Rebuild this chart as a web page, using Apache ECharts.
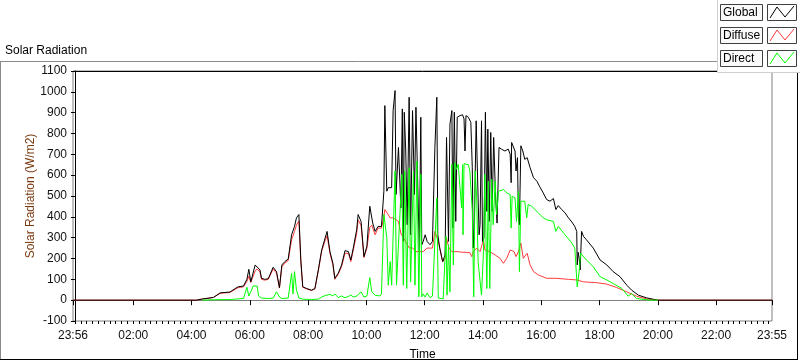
<!DOCTYPE html>
<html>
<head>
<meta charset="utf-8">
<title>Solar Radiation</title>
<script src="https://cdn.jsdelivr.net/npm/echarts@6/dist/echarts.min.js"></script>
<style>
  html, body { margin: 0; padding: 0; background: #fff; }
  #chart { width: 800px; height: 361px; }
</style>
</head>
<body>
<div id="chart"></div>
<script>
// clock time, W/m2 (23:56 is the day before)
const globalPts = [
  ['23:56', 0], ['04:10', 0], ['04:21', 5], ['04:45', 13], ['04:59', 35], ['05:19', 39], ['05:30', 56],
  ['05:36', 64], ['05:47', 68], ['05:54', 100], ['05:58', 148], ['06:02', 88], ['06:11', 169], ['06:15', 161],
  ['06:21', 145], ['06:24', 105], ['06:31', 100], ['06:38', 103], ['06:48', 158], ['06:55', 137], ['07:01', 60],
  ['07:06', 169], ['07:12', 185], ['07:19', 197], ['07:26', 314], ['07:32', 354], ['07:36', 395], ['07:41', 411],
  ['07:45', 193], ['07:49', 64], ['07:57', 56], ['08:07', 48], ['08:14', 56], ['08:21', 145], ['08:28', 242],
  ['08:35', 298], ['08:39', 330], ['08:45', 233], ['08:51', 177], ['08:55', 105], ['09:02', 129], ['09:09', 169],
  ['09:16', 238], ['09:23', 233], ['09:28', 193], ['09:33', 250], ['09:40', 338], ['09:43', 411], ['09:49', 378],
  ['09:55', 209], ['10:01', 258], ['10:07', 451], ['10:13', 370], ['10:18', 330], ['10:24', 354], ['10:31', 354],
  ['10:36', 523], ['10:38', 934], ['10:42', 523], ['10:45', 540], ['10:52', 540], ['10:55', 910], ['10:59', 1006],
  ['11:01', 507], ['11:06', 733], ['11:11', 443], ['11:14', 918], ['11:16', 282], ['11:18', 902], ['11:21', 716],
  ['11:24', 362], ['11:28', 974], ['11:31', 314], ['11:35', 910], ['11:39', 507], ['11:42', 926], ['11:46', 918],
  ['11:49', 233], ['11:52', 878], ['11:54', 266], ['11:57', 282], ['12:01', 314], ['12:05', 282], ['12:11', 266],
  ['12:16', 282], ['12:21', 733], ['12:25', 974], ['12:27', 314], ['12:31', 250], ['12:37', 185], ['12:42', 217],
  ['12:45', 781], ['12:49', 282], ['12:52', 845], ['12:56', 910], ['12:58', 346], ['13:01', 902], ['13:04', 378],
  ['13:07', 878], ['13:13', 886], ['13:18', 890], ['13:21', 870], ['13:23', 716], ['13:25', 886], ['13:30', 878],
  ['13:35', 853], ['13:38', 636], ['13:40', 250], ['13:42', 346], ['13:46', 861], ['13:48', 668], ['13:52', 314],
  ['13:54', 362], ['13:57', 861], ['13:59', 282], ['14:02', 298], ['14:05', 902], ['14:08', 426], ['14:10', 821],
  ['14:13', 378], ['14:16', 805], ['14:19', 426], ['14:22', 781], ['14:26', 491], ['14:29', 370], ['14:33', 733],
  ['14:38', 725], ['14:45', 716], ['14:52', 725], ['14:56', 700], ['14:58', 564], ['14:59', 757], ['15:02', 749],
  ['15:06', 716], ['15:08', 620], ['15:11', 684], ['15:13', 395], ['15:15', 362], ['15:18', 741], ['15:22', 716],
  ['15:26', 676], ['15:31', 684], ['15:37', 636], ['15:44', 588], ['15:51', 571], ['15:57', 544], ['16:04', 515],
  ['16:11', 483], ['16:18', 475], ['16:25', 488], ['16:30', 435], ['16:35', 454], ['16:42', 435], ['16:49', 419],
  ['16:56', 395], ['17:03', 375], ['17:09', 354], ['17:13', 330], ['17:14', 169], ['17:16', 230], ['17:18', 201],
  ['17:20', 145], ['17:23', 330], ['17:27', 306], ['17:33', 290], ['17:47', 250], ['18:01', 193], ['18:15', 169],
  ['18:28', 137], ['18:42', 113], ['18:56', 72], ['19:06', 48], ['19:20', 24], ['19:37', 11], ['19:58', 1],
  ['20:04', 0], ['23:55', 0]
];

const diffusePts = [
  ['23:56', 0], ['04:10', 0], ['04:21', 5], ['04:45', 13], ['04:59', 33], ['05:19', 37], ['05:30', 52],
  ['05:36', 60], ['05:47', 64], ['05:54', 90], ['05:58', 115], ['06:02', 85], ['06:11', 140], ['06:15', 150],
  ['06:21', 135], ['06:24', 100], ['06:31', 96], ['06:38', 100], ['06:48', 150], ['06:55', 130], ['07:01', 58],
  ['07:06', 160], ['07:12', 178], ['07:19', 190], ['07:26', 290], ['07:32', 330], ['07:36', 360], ['07:41', 380],
  ['07:45', 185], ['07:49', 62], ['07:57', 54], ['08:07', 46], ['08:14', 54], ['08:21', 140], ['08:28', 235],
  ['08:35', 285], ['08:39', 310], ['08:45', 225], ['08:51', 170], ['08:55', 100], ['09:02', 124], ['09:09', 162],
  ['09:16', 225], ['09:23', 225], ['09:28', 185], ['09:33', 240], ['09:40', 320], ['09:43', 385], ['09:49', 360],
  ['09:55', 205], ['10:01', 250], ['10:07', 350], ['10:11', 360], ['10:18', 314], ['10:24', 346], ['10:31', 346],
  ['10:36', 400], ['10:38', 435], ['10:42', 435], ['10:45', 410], ['10:49', 395], ['10:55', 395], ['10:59', 395],
  ['11:06', 378], ['11:11', 320], ['11:16', 300], ['11:21', 280], ['11:28', 251], ['11:35', 251], ['11:42', 233],
  ['11:49', 233], ['11:57', 233], ['12:05', 250], ['12:11', 250], ['12:16', 250], ['12:21', 330], ['12:25', 330],
  ['12:28', 282], ['12:31', 250], ['12:37', 185], ['12:42', 201], ['12:45', 298], ['12:50', 250], ['12:56', 233],
  ['13:02', 233], ['13:09', 233], ['13:16', 230], ['13:25', 230], ['13:33', 228], ['13:37', 209], ['13:40', 233],
  ['13:47', 250], ['13:54', 233], ['14:01', 290], ['14:04', 241], ['14:14', 233], ['14:25', 217], ['14:35', 201],
  ['14:42', 177], ['14:49', 201], ['14:56', 241], ['15:00', 250], ['15:04', 233], ['15:08', 209], ['15:13', 233],
  ['15:18', 274], ['15:23', 201], ['15:26', 193], ['15:31', 225], ['15:37', 169], ['15:44', 137], ['15:54', 121],
  ['16:11', 105], ['16:30', 105], ['16:56', 100], ['17:13', 97], ['17:27', 88], ['17:54', 84], ['18:15', 77],
  ['18:35', 61], ['18:56', 40], ['19:16', 19], ['19:37', 6], ['19:54', 0], ['23:55', 0]
];

// direct is only logged while the sun is up
const directPts = [
  ['04:22', 0], ['04:45', 2], ['05:19', 3], ['05:30', 5], ['05:47', 8], ['05:54', 62], ['05:58', 20],
  ['06:02', 40], ['06:07', 68], ['06:11', 60], ['06:15', 68], ['06:18', 20], ['06:24', 10], ['06:38', 8],
  ['06:48', 10], ['06:55', 40], ['07:01', 15], ['07:06', 8], ['07:19', 10], ['07:26', 129], ['07:29', 30],
  ['07:32', 137], ['07:36', 50], ['07:41', 10], ['07:49', 5], ['08:07', 3], ['08:21', 5], ['08:28', 15],
  ['08:35', 22], ['08:45', 28], ['08:51', 20], ['08:55', 30], ['09:02', 12], ['09:09', 20], ['09:16', 12],
  ['09:23', 18], ['09:28', 25], ['09:33', 15], ['09:40', 20], ['09:49', 40], ['09:55', 15], ['10:01', 20],
  ['10:07', 108], ['10:11', 40], ['10:18', 24], ['10:28', 20], ['10:31', 30], ['10:36', 411], ['10:38', 403],
  ['10:42', 300], ['10:45', 72], ['10:49', 185], ['10:52', 72], ['10:59', 620], ['11:02', 72], ['11:13', 604],
  ['11:16', 72], ['11:19', 620], ['11:23', 56], ['11:28', 636], ['11:31', 88], ['11:37', 620], ['11:40', 72],
  ['11:44', 668], ['11:48', 16], ['11:52', 604], ['11:54', 16], ['11:57', 30], ['12:01', 15], ['12:05', 35],
  ['12:11', 12], ['12:16', 20], ['12:25', 491], ['12:28', 10], ['12:31', 8], ['12:38', 6], ['12:44', 306],
  ['12:46', 24], ['12:49', 266], ['12:52', 40], ['12:56', 652], ['12:59', 169], ['13:02', 660], ['13:06', 628],
  ['13:09', 652], ['13:13', 660], ['13:16', 443], ['13:18', 650], ['13:19', 314], ['13:21', 655], ['13:25', 655],
  ['13:30', 650], ['13:33', 620], ['13:38', 426], ['13:41', 16], ['13:44', 620], ['13:47', 491], ['13:50', 185],
  ['13:52', 137], ['13:57', 24], ['14:01', 233], ['14:04', 604], ['14:08', 56], ['14:11', 571], ['14:14', 56],
  ['14:18', 580], ['14:21', 362], ['14:25', 571], ['14:28', 411], ['14:32', 523], ['14:35', 531], ['14:42', 531],
  ['14:49', 515], ['14:52', 507], ['14:56', 507], ['14:58', 346], ['15:00', 499], ['15:02', 507], ['15:06', 491],
  ['15:09', 378], ['15:13', 523], ['15:15', 137], ['15:18', 475], ['15:22', 483], ['15:26', 475], ['15:30', 395],
  ['15:33', 459], ['15:40', 451], ['15:47', 435], ['15:54', 419], ['16:04', 395], ['16:11', 386], ['16:14', 378],
  ['16:25', 378], ['16:30', 330], ['16:35', 354], ['16:49', 314], ['17:03', 274], ['17:09', 250], ['17:14', 64],
  ['17:18', 137], ['17:21', 225], ['17:33', 193], ['17:47', 161], ['18:01', 113], ['18:15', 97], ['18:28', 80],
  ['18:46', 56], ['18:59', 19], ['19:06', 32], ['19:16', 8], ['19:44', 0], ['20:00', 0]
];

// x axis: minutes after midnight, the window runs 23:56 (prev day) .. 23:55
const majorTicks = [-4, 120, 240, 360, 480, 600, 720, 840, 960, 1080, 1200, 1320, 1435];
const minorTicks = [];
for (let m = 0; m <= 1428; m += 12) minorTicks.push(m);

const legendNames = ['Global', 'Diffuse', 'Direct'];
const colors = { Global: '#000000', Diffuse: '#ff3a3a', Direct: '#00ff00' };

const toMin = (s) => {
  const [h, m] = s.split(':').map(Number);
  const v = h * 60 + m;
  return v >= 1436 ? v - 1440 : v;
};
const fmt = (v) => {
  const m = (Math.round(v) + 1440) % 1440;
  return String(Math.floor(m / 60)).padStart(2, '0') + ':' + String(m % 60).padStart(2, '0');
};
const toData = (pts) => pts.map(p => [toMin(p[0]), p[1]]);

const font = 'Liberation Sans, Arial, sans-serif';

// legend panel, drawn by hand to look like the LabVIEW plot legend
const legendGraphics = [];
legendNames.forEach((name, i) => {
  const y = 4 + i * 23;
  legendGraphics.push({
    type: 'rect', shape: { x: 720.5, y: y + 0.5, width: 42, height: 16 },
    style: { fill: '#fafafa', stroke: '#404040', lineWidth: 1 }
  });
  legendGraphics.push({
    type: 'text', x: 723, y: y + 9,
    style: { text: name, fill: '#000', font: '12px ' + font, textVerticalAlign: 'middle', verticalAlign: 'middle' }
  });
  legendGraphics.push({
    type: 'rect', shape: { x: 767.5, y: y + 0.5, width: 29, height: 16 },
    style: { fill: '#fff', stroke: '#404040', lineWidth: 1 }
  });
  legendGraphics.push({
    type: 'polyline',
    shape: { points: [[770, y + 14], [777, y + 3], [785, y + 13], [794, y + 2]] },
    style: { stroke: colors[name], lineWidth: 1, fill: null }
  });
});

const chart = echarts.init(document.getElementById('chart'), null, { renderer: 'canvas' });

const option = {
  animation: false,
  backgroundColor: '#ffffff',
  textStyle: { fontFamily: font },
  grid: {
    left: 73, right: 28, top: 71, bottom: 40, outerBoundsMode: 'none', containLabel: false,
    show: true, borderColor: '#808080', borderWidth: 1, backgroundColor: '#fff'
  },
  xAxis: [
    {
      type: 'value', position: 'bottom', min: -4, max: 1435,
      axisLine: { show: true, lineStyle: { color: '#808080', width: 1 } },
      axisTick: { show: true, inside: false, length: 5, customValues: majorTicks, lineStyle: { color: '#000' } },
      axisLabel: {
        customValues: majorTicks, formatter: fmt, margin: 9, fontSize: 12, color: '#111',
        showMinLabel: true, showMaxLabel: true, hideOverlap: false
      },
      splitLine: { show: false },
      name: 'Time', nameLocation: 'middle', nameGap: 28, nameMoveOverlap: false,
      nameTextStyle: { fontSize: 12, color: '#000' }
    },
    {
      type: 'value', position: 'top', min: -4, max: 1435,
      axisLine: { show: true, lineStyle: { color: '#000', width: 1 } },
      axisTick: { show: false }, axisLabel: { show: false }, splitLine: { show: false }
    },
    {
      type: 'value', position: 'bottom', min: -4, max: 1435,
      axisLine: { show: false },
      axisTick: { show: true, inside: false, length: 3, customValues: minorTicks, lineStyle: { color: '#000' } },
      axisLabel: { show: false }, splitLine: { show: false }
    }
  ],
  yAxis: {
    type: 'value', min: -100, max: 1100, interval: 100,
    axisLine: { show: true, lineStyle: { color: '#000', width: 1 } },
    axisTick: { show: true, inside: false, length: 4, lineStyle: { color: '#000' } },
    axisLabel: { margin: 6, fontSize: 12, color: '#111', formatter: (v) => String(v) },
    splitLine: { show: false },
    name: 'Solar Radiation (W/m2)', nameLocation: 'middle', nameGap: 36, nameRotate: 90, nameMoveOverlap: false,
    nameTextStyle: { fontSize: 12, color: '#7a3a10' }
  },
  series: [
    {
      name: 'Diffuse', type: 'line', data: toData(diffusePts), showSymbol: false, symbol: 'none',
      lineStyle: { color: colors.Diffuse, width: 1 }, z: 2
    },
    {
      name: 'Global', type: 'line', data: toData(globalPts), showSymbol: false, symbol: 'none',
      lineStyle: { color: colors.Global, width: 1 }, z: 3
    },
    {
      name: 'Direct', type: 'line', data: toData(directPts), showSymbol: false, symbol: 'none',
      lineStyle: { color: colors.Direct, width: 1 }, z: 4
    }
  ],
  graphic: [
    // outer frame of the front-panel graph
    { type: 'line', shape: { x1: 0, y1: 61.5, x2: 717, y2: 61.5 }, style: { stroke: '#8a8a8a', lineWidth: 1 } },
    { type: 'line', shape: { x1: 0.5, y1: 61, x2: 0.5, y2: 360 }, style: { stroke: '#8a8a8a', lineWidth: 1 } },
    { type: 'line', shape: { x1: 0, y1: 359.5, x2: 798, y2: 359.5 }, style: { stroke: '#000', lineWidth: 1 } },
    { type: 'line', shape: { x1: 797.5, y1: 72, x2: 797.5, y2: 360 }, style: { stroke: '#000', lineWidth: 1 } },
    {
      type: 'text', x: 5, y: 51,
      style: { text: 'Solar Radiation', fill: '#000', font: '12px ' + font, verticalAlign: 'middle', textVerticalAlign: 'middle' }
    },
    // legend panel
    { type: 'rect', shape: { x: 717, y: 0, width: 83, height: 72 }, style: { fill: '#fff' }, z: 10 },
    { type: 'line', shape: { x1: 717.5, y1: 0, x2: 717.5, y2: 72 }, style: { stroke: '#d0d0d0', lineWidth: 1 }, z: 10 },
    { type: 'line', shape: { x1: 717, y1: 72.5, x2: 800, y2: 72.5 }, style: { stroke: '#d0d0d0', lineWidth: 1 }, z: 10 },
    ...legendGraphics.map(g => Object.assign({ z: 11 }, g))
  ]
};

chart.setOption(option);
</script>
</body>
</html>
